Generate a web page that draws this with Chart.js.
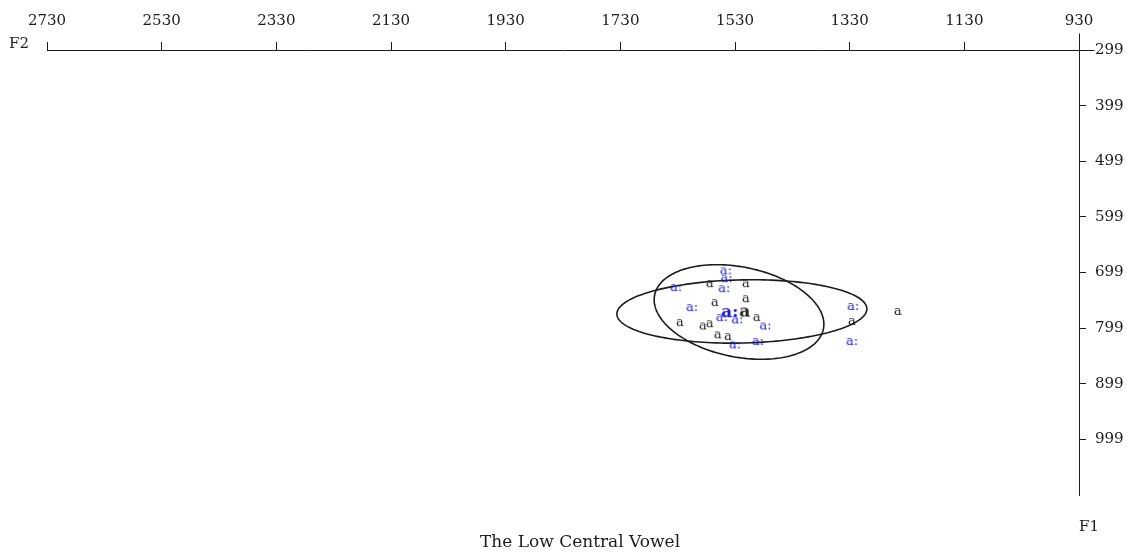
<!DOCTYPE html>
<html>
<head>
<meta charset="utf-8">
<script src="https://cdn.jsdelivr.net/npm/chart.js@4.4.0/dist/chart.umd.min.js"></script>
<style>
  html, body { margin: 0; padding: 0; background: #fff; }
  #wrap { position: relative; width: 1135px; height: 555px; }
</style>
</head>
<body>
<div id="wrap"><canvas id="plot"></canvas></div>
<script>
// Axis ticks (Hz)
const F2_TICKS = [2730, 2530, 2330, 2130, 1930, 1730, 1530, 1330, 1130, 930];
const F1_TICKS = [299, 399, 499, 599, 699, 799, 899, 999];

// Short vowel /a/ tokens
const A_F2 = [1574, 1511, 1565, 1511, 1626, 1586, 1574, 1560, 1542, 1492, 1326, 1246];
const A_F1 = [720, 720, 754, 747, 790, 796, 792, 812, 815, 781, 788, 770];

// Long vowel /a:/ tokens
const AA_F2 = [1546, 1545, 1633, 1549, 1605, 1553, 1526, 1477, 1530, 1490, 1324, 1326];
const AA_F1 = [697, 711, 727, 729, 763, 781, 785, 796, 830, 824, 761, 824];

// Group means
const MEAN_LABELS = ['a', 'a:'];
const MEAN_F2 = [1513, 1539];
const MEAN_F1 = [771, 772];

// Dispersion ellipses: centre, spread along F2 and F1, F2/F1 correlation
const ELLIPSE_F2 = [1523, 1518];
const ELLIPSE_F1 = [770, 769];
const ELLIPSE_SD_F2 = [148, 218];
const ELLIPSE_SD_F1 = [85, 57];
const ELLIPSE_R = [-0.26, 0.08];

const INK = '#1c1c1c';
const BLUE = '#1a1ad6';
const SERIF = '"DejaVu Serif", "Liberation Serif", serif';

// Render a short text label into a small canvas so it can serve as a point style
function glyph(text, color, font) {
  const c = document.createElement('canvas');
  let ctx = c.getContext('2d');
  ctx.font = font;
  const w = Math.ceil(ctx.measureText(text).width) + 4;
  const h = 24;
  c.width = w; c.height = h;
  ctx = c.getContext('2d');
  ctx.font = font;
  ctx.fillStyle = color;
  ctx.textAlign = 'center';
  ctx.textBaseline = 'middle';
  ctx.fillText(text, w / 2, h / 2);
  return c;
}

const pts = (xs, ys) => xs.map((v, i) => ({ x: v, y: ys[i] }));

const ellipses = {
  id: 'ellipses',
  beforeDatasetsDraw(chart) {
    const { ctx, scales: { x, y } } = chart;
    ctx.save();
    ctx.strokeStyle = INK;
    ctx.lineWidth = 1.6;
    for (let i = 0; i < ELLIPSE_F2.length; i++) {
      const r = ELLIPSE_R[i], k = Math.sqrt(1 - r * r);
      ctx.beginPath();
      for (let s = 0; s <= 180; s++) {
        const t = s / 180 * 2 * Math.PI;
        const f2 = ELLIPSE_F2[i] + ELLIPSE_SD_F2[i] * Math.cos(t);
        const f1 = ELLIPSE_F1[i] + ELLIPSE_SD_F1[i] * (r * Math.cos(t) + k * Math.sin(t));
        const px = x.getPixelForValue(f2), py = y.getPixelForValue(f1);
        if (s === 0) ctx.moveTo(px, py); else ctx.lineTo(px, py);
      }
      ctx.closePath();
      ctx.stroke();
    }
    ctx.restore();
  }
};

const frame = {
  id: 'frame',
  afterDraw(chart) {
    const { ctx, chartArea: a } = chart;
    ctx.save();
    ctx.strokeStyle = INK;
    ctx.lineWidth = 1;
    ctx.beginPath();
    const top = Math.round(a.top) + 0.5, right = Math.round(a.right) + 0.5;
    ctx.moveTo(right, top); ctx.lineTo(right + 15, top);
    ctx.moveTo(right, top); ctx.lineTo(right, top - 17);
    ctx.stroke();
    ctx.fillStyle = INK;
    ctx.font = '15px ' + SERIF;
    ctx.textBaseline = 'middle';
    ctx.textAlign = 'left';
    ctx.fillText('F2', 9, a.top - 6);
    ctx.fillText('F1', a.right, a.bottom + 32);
    ctx.textAlign = 'center';
    ctx.font = '17px ' + SERIF;
    ctx.fillText('The Low Central Vowel', 580, a.bottom + 48);
    ctx.restore();
  }
};

const tickFont = { family: SERIF, size: 15 };

new Chart(document.getElementById('plot'), {
  type: 'scatter',
  data: {
    datasets: [
      { label: 'a', data: pts(A_F2, A_F1), pointStyle: glyph('a', INK, '13px ' + SERIF) },
      { label: 'a:', data: pts(AA_F2, AA_F1), pointStyle: glyph('a:', BLUE, '13px ' + SERIF) },
      { label: 'mean a', data: pts([MEAN_F2[0]], [MEAN_F1[0]]), pointStyle: glyph(MEAN_LABELS[0], INK, 'bold 17px ' + SERIF) },
      { label: 'mean a:', data: pts([MEAN_F2[1]], [MEAN_F1[1]]), pointStyle: glyph(MEAN_LABELS[1], BLUE, 'bold 17px ' + SERIF) }
    ]
  },
  options: {
    responsive: true,
    maintainAspectRatio: false,
    animation: false,
    events: [],
    layout: { padding: { left: 47, top: 0, right: 0, bottom: 60 } },
    plugins: { legend: { display: false }, tooltip: { enabled: false } },
    scales: {
      x: {
        type: 'linear', position: 'top', reverse: true, min: 930, max: 2730,
        afterBuildTicks: s => { s.ticks = F2_TICKS.map(v => ({ value: v })); },
        afterFit: s => { s.height = 50; s.paddingLeft = 0; s.paddingRight = 0; },
        grid: { drawOnChartArea: false, tickLength: 8, color: INK, lineWidth: 1 },
        border: { display: true, color: INK, width: 1 },
        ticks: { font: tickFont, color: INK, padding: 12, maxRotation: 0, autoSkip: false, callback: v => String(v) }
      },
      y: {
        type: 'linear', position: 'right', reverse: true, min: 299, max: 1099,
        afterBuildTicks: s => { s.ticks = F1_TICKS.map(v => ({ value: v })); },
        afterFit: s => { s.width = 56; s.paddingTop = 0; s.paddingBottom = 0; },
        grid: { drawOnChartArea: false, tickLength: 7, color: INK, lineWidth: 1 },
        border: { display: true, color: INK, width: 1 },
        ticks: { font: tickFont, color: INK, padding: 9, autoSkip: false, callback: v => String(v) }
      }
    }
  },
  plugins: [ellipses, frame]
});
</script>
</body>
</html>
